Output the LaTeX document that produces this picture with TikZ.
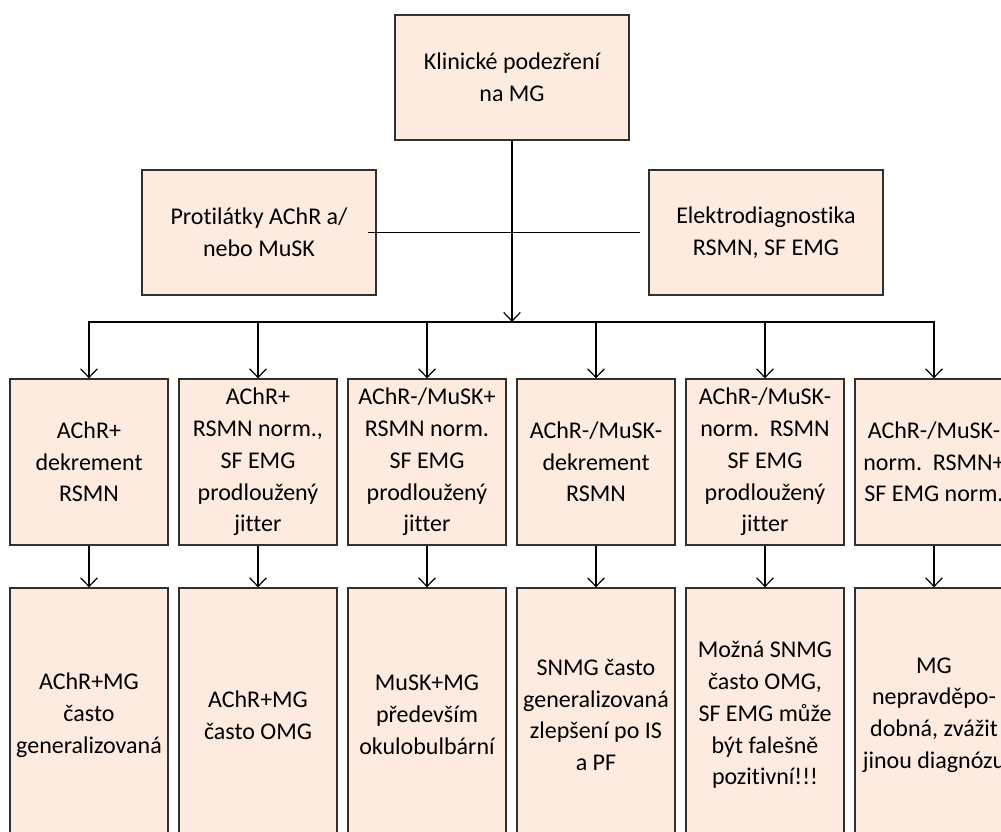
\documentclass[tikz,border=0pt]{standalone}
\usepackage{fontspec}
\setmainfont{Carlito}[Ligatures={NoCommon}]
\usetikzlibrary{arrows.meta}
\definecolor{peach}{HTML}{FDEBDF}
\definecolor{edge}{HTML}{303030}
\tikzset{
  box/.style={draw=edge, line width=1pt, fill=peach, align=center, inner sep=0pt,
    font=\fontsize{18}{23.8}\selectfont},
  midbox/.style={box, minimum width=175.5pt, minimum height=93.75pt},
  rowa/.style={box, minimum width=118.5pt, minimum height=124.5pt},
  rowb/.style={box, minimum width=118.5pt, minimum height=190.5pt},
  conn/.style={draw=black, line width=0.9pt},
  arr/.style={conn, -{Straight Barb[length=6.5pt,width=12.5pt,line width=0.9pt]}},
}
\begin{document}
\begin{tikzpicture}[x=0.75pt,y=-0.75pt]
\useasboundingbox (0,0) rectangle (1001,832);
\clip (0,0) rectangle (1001,832);

\node[midbox] (top) at (512,77.5) {Klinické podezření\\na MG};
\node[midbox] (anti) at (259,232.5) {Protilátky AChR a/\\nebo MuSK};
\node[midbox] (elek) at (766,232.5) {Elektrodiagnostika\\RSMN, SF EMG};

\coordinate (J) at (512,322);

\node[rowa] (a1) at (89,462) {AChR+\\dekrement\\RSMN};
\node[rowa] (a2) at (258,462) {AChR+\\RSMN norm.,\\SF EMG\\prodloužený\\jitter};
\node[rowa] (a3) at (427,462) {AChR-/MuSK+\\RSMN norm.\\SF EMG\\prodloužený\\jitter};
\node[rowa] (a4) at (596,462) {AChR-/MuSK-\\dekrement\\RSMN};
\node[rowa] (a5) at (765,462) {AChR-/MuSK-\\norm.~~RSMN\\SF EMG\\prodloužený\\jitter};
\node[rowa] (a6) at (934,462) {AChR-/MuSK-\\norm.~~RSMN+\\SF EMG norm.};

\node[rowb] (b1) at (89,715) {AChR+MG\\často\\generalizovaná};
\node[rowb] (b2) at (258,715) {AChR+MG\\často OMG};
\node[rowb] (b3) at (427,715) {MuSK+MG\\především\\okulobulbární};
\node[rowb] (b4) at (596,715) {SNMG často\\generalizovaná\\zlepšení po IS\\a PF};
\node[rowb] (b5) at (765,715) {Možná SNMG\\často OMG,\\SF EMG může\\být falešně\\pozitivní!!!};
\node[rowb] (b6) at (934,715) {MG\\nepravděpo-\\dobná, zvážit\\jinou diagnózu};

\draw[conn] ([xshift=-6.75pt]anti.east) -- ([xshift=-6pt]elek.west);
\draw[arr] (top.south) -- (J);
\foreach \i in {1,...,6} {
  \draw[arr] (J) -| (a\i.north);
  \draw[arr] (a\i.south) -- (b\i.north);
}
\end{tikzpicture}
\end{document}
